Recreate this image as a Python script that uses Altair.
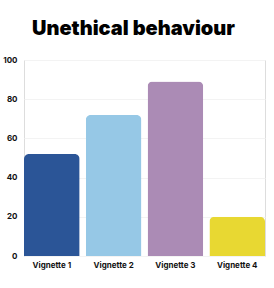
import altair as alt
import pandas as pd

categories = ["Vignette 1", "Vignette 2", "Vignette 3", "Vignette 4"]
values = [52, 72, 89, 20]
colors = ["#2B5597", "#96C8E6", "#AB8BB5", "#E8D832"]
y_ticks = [0, 20, 40, 60, 80, 100]

df = pd.DataFrame({"category": categories, "value": values})

chart = alt.Chart(df).mark_bar(
    cornerRadiusTopLeft=5, cornerRadiusTopRight=5
).encode(
    x=alt.X("category:N", sort=categories, title=None,
            scale=alt.Scale(paddingInner=0.1, paddingOuter=0),
            axis=alt.Axis(labelAngle=0, ticks=False, domain=False, labelPadding=5,
                          labelFont="Inter", labelFontSize=8, labelFontWeight=700,
                          labelColor="#111111")),
    y=alt.Y("value:Q", title=None,
            scale=alt.Scale(domain=[0, 100], nice=False),
            axis=alt.Axis(values=y_ticks, ticks=False, domain=False, labelPadding=7,
                          labelFont="Inter", labelFontSize=8, labelFontWeight=700,
                          labelColor="#111111", gridColor="#f3f3f3", gridWidth=1)),
    color=alt.Color("category:N", sort=categories,
                    scale=alt.Scale(domain=categories, range=colors), legend=None),
).properties(
    width=241, height=196,
    title=alt.TitleParams("Unethical behaviour", font="Inter", fontSize=20,
                          fontWeight=900, color="#000000", anchor="middle",
                          dx=-11, offset=17),
    autosize=alt.AutoSizeParams(type="none"),
    padding={"left": 24, "top": 60, "right": 9, "bottom": 32},
).configure_view(stroke=None).configure(background="white")

chart.save("out.html", embed_options={"renderer": "svg", "actions": False})
